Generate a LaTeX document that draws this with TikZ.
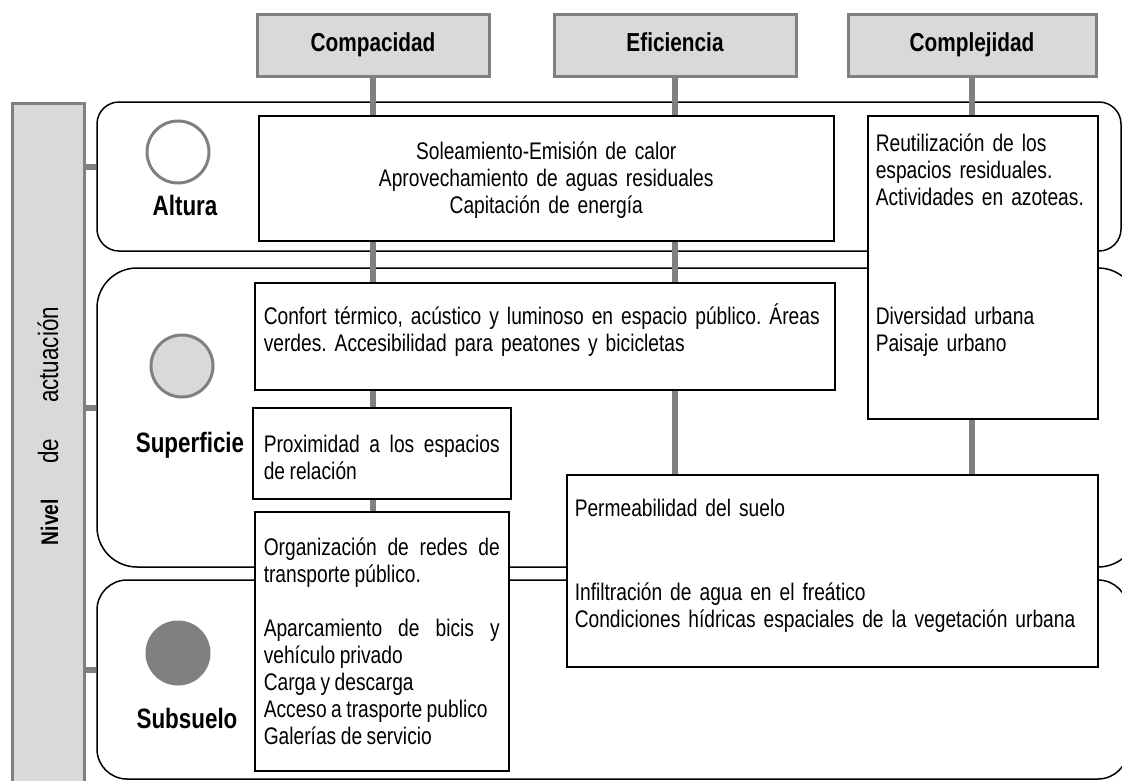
\documentclass[tikz,border=0pt]{standalone}
\usepackage{fontspec}
\setmainfont{Liberation Sans}[FakeStretch=0.80, WordSpace=0.85]
\usepackage{tikz}
\usetikzlibrary{positioning}
\frenchspacing
\hyphenpenalty=10000
\definecolor{lgray}{HTML}{D9D9D9}
\definecolor{dgray}{HTML}{808080}
\tikzstyle{header} = [draw=dgray, fill=lgray, line width=3pt, minimum height=62pt, text height=19pt, text depth=6pt, font=\fontsize{26}{30}\selectfont\bfseries]
\tikzstyle{band} = [draw=black, line width=1.5pt, fill=white]
\tikzstyle{box} = [draw=black, line width=1.5pt, fill=white, anchor=north west, inner ysep=0pt, inner xsep=10pt, font=\fontsize{24}{27}\selectfont]
\tikzstyle{link} = [draw=dgray, line width=6pt]
\tikzstyle{level} = [circle, line width=3pt, draw=dgray, minimum size=62pt]
\tikzstyle{levelname} = [font=\fontsize{28}{32}\selectfont\bfseries]

\begin{document}
\begin{tikzpicture}[x=1pt, y=-1pt]
   \useasboundingbox (0,0) rectangle (1122,780);
   \clip (0,0) rectangle (1122,780);

   % bands for each level
   \node[band, rounded corners=22pt, minimum width=1024pt, minimum height=149pt] (altura) at (609,176.5) {};
   \node[band, rounded corners=40pt, minimum width=1041pt, minimum height=299pt] (superf) at (617.5,417.5) {};
   \node[band, rounded corners=30pt, minimum width=1031pt, minimum height=199pt] (subsue) at (612.5,679.5) {};

   % left bar
   \node[draw=dgray, fill=lgray, line width=3pt, minimum width=72pt, minimum height=700pt, anchor=north] (nivel) at (48,102) {};
   \node[rotate=90, text width=238pt, font=\fontsize{28}{32}\selectfont] (niveltxt) at (48,426) {{\fontsize{24}{28}\selectfont\bfseries Nivel}\hfill de\hfill actuación};
   \foreach \lev in {altura, superf, subsue}
     \draw[link] ([yshift=10pt]\lev.west) -- ([yshift=10pt]\lev.west -| nivel.east);

   % level symbols
   \node[level, fill=white] (altc) at (178,152) {};
   \node[level, fill=lgray] (supc) at (182,366) {};
   \node[level, fill=dgray] (subc) at (178,653) {};
   \node[levelname] (altl) at (185,205) {Altura};
   \node[levelname] (supl) at (190,445) {Superficie};
   \node[levelname] (subl) at (187,718) {Subsuelo};

   % contents
   \node[box, text width=555pt, align=center, text height=44pt, text depth=81pt] (solea) at (258,115) {Soleamiento-Emisión de calor\\ Aprovechamiento de aguas residuales\\ Capitación de energía};
   \node[box, text width=214pt, inner xsep=8pt, align=left, text height=36pt, text depth=267pt] (reuti) at (867,115) {Reutilización de los\\ espacios residuales.\\ Actividades en azoteas.\\[92pt] Diversidad urbana\\ Paisaje urbano};
   \node[box, text width=562pt, inner xsep=9pt, align=left, text height=42pt, text depth=65pt] (confort) at (254,282) {Confort térmico, acústico y luminoso en espacio público. Áreas\\ verdes. Accesibilidad para peatones y bicicletas};
   \node[box, text width=236pt, inner xsep=11pt, align=justify, text height=45pt, text depth=46pt] (proxim) at (252,407) {Proximidad a los espacios\linebreak de relación};
   \node[box, text width=236pt, inner xsep=9pt, align=justify, text height=44pt, text depth=215pt] (organiz) at (254,511) {Organización de redes de\linebreak transporte público.\\[27pt] Aparcamiento de bicis y\linebreak vehículo privado\\ Carga y descarga\\ Acceso a trasporte publico\\ Galerías de servicio};
   \node[box, text width=515pt, inner xsep=8pt, align=left, text height=42pt, text depth=150pt] (permea) at (566,474) {Permeabilidad del suelo\\[57pt] Infiltración de agua en el freático\\ Condiciones hídricas espaciales de la vegetación urbana};

   % criteria
   \node[header, minimum width=232pt] (compa) at (373,45) {Compacidad};
   \node[header, minimum width=242pt] (efici) at (675,45) {Eficiencia};
   \node[header, minimum width=248pt] (compl) at (972,45) {Complejidad};

   % connectors
   \draw[link] (compa.south) -- (compa.south |- solea.north);
   \draw[link] (compa.south |- solea.south) -- (compa.south |- confort.north);
   \draw[link] (compa.south |- confort.south) -- (compa.south |- proxim.north);
   \draw[link] (compa.south |- proxim.south) -- (compa.south |- organiz.north);
   \draw[link] (efici.south) -- (efici.south |- solea.north);
   \draw[link] (efici.south |- solea.south) -- (efici.south |- confort.north);
   \draw[link] (efici.south |- confort.south) -- (efici.south |- permea.north);
   \draw[link] (compl.south) -- (compl.south |- reuti.north);
   \draw[link] (compl.south |- reuti.south) -- (compl.south |- permea.north);

\end{tikzpicture}
\end{document}
